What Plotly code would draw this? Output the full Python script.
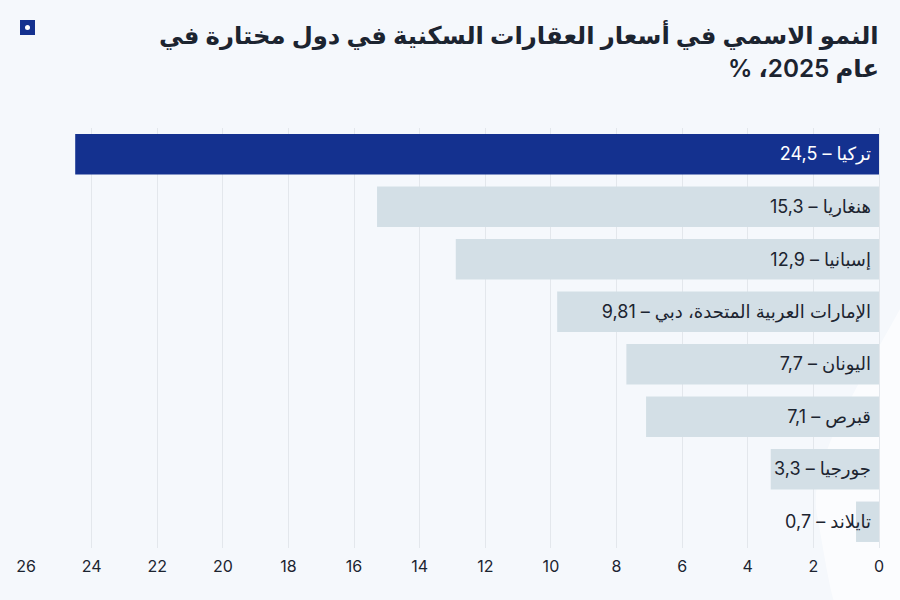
import plotly.graph_objects as go

countries = ["تركيا", "هنغاريا", "إسبانيا", "الإمارات العربية المتحدة، دبي",
             "اليونان", "قبرص", "جورجيا", "تايلاند"]
values = [24.5, 15.3, 12.9, 9.81, 7.7, 7.1, 3.3, 0.7]
value_labels = ["24,5", "15,3", "12,9", "9,81", "7,7", "7,1", "3,3", "0,7"]
tick_vals = list(range(0, 27, 2))
title_lines = ["النمو الاسمي في أسعار العقارات السكنية في دول مختارة في", "عام 2025، %"]

RLM = "\u200f"
NBSP = "\u00a0"
texts = [f"{RLM}{NBSP}{c} – {v}{RLM}" for c, v in zip(countries, value_labels)]
bar_colors = ["#14318f"] + ["#d3dfe6"] * (len(values) - 1)
text_colors = ["#ffffff"] + ["#1c2430"] * (len(values) - 1)

FONT = "Inter, 'Noto Sans', 'DejaVu Sans', sans-serif"

# plot area in pixels: x 26..879, y 128..548
PW, PH, L, T = 853, 420, 26, 128
def px(x):
    return (x - L) / PW
def py(y):
    return (T + PH - y) / PH

fig = go.Figure(go.Bar(
    x=values, y=countries, orientation="h",
    marker=dict(color=bar_colors, line=dict(width=0)),
    text=texts, textposition="inside", insidetextanchor="start",
    textfont=dict(color=text_colors, size=18, family=FONT),
    textangle=0, constraintext="none",
    hoverinfo="skip",
))

bg_path = (f"M {px(905)} {py(300)} "
           f"C {px(850)} {py(400)}, {px(805)} {py(470)}, {px(818)} {py(520)} "
           f"C {px(825)} {py(560)}, {px(830)} {py(590)}, {px(835)} {py(605)} "
           f"L {px(905)} {py(605)} Z")

fig.update_layout(
    width=900, height=600,
    margin=dict(l=L, r=900 - L - PW, t=T, b=600 - T - PH),
    paper_bgcolor="#f5f8fc", plot_bgcolor="rgba(0,0,0,0)",
    bargap=0.23,
    showlegend=False,
    font=dict(family=FONT, color="#1c2430"),
    xaxis=dict(range=[26, 0], tickvals=tick_vals, ticktext=[str(t) for t in tick_vals],
               showgrid=True, gridcolor="#e3e7ec", gridwidth=1,
               zeroline=True, zerolinecolor="#e3e7ec", zerolinewidth=1,
               showline=False, ticks="", tickfont=dict(size=16, color="#1c2430"),
               ticklabelstandoff=7),
    yaxis=dict(autorange="reversed", showticklabels=False, showgrid=False,
               zeroline=False, showline=False, ticks=""),
    shapes=[
        dict(type="path", xref="paper", yref="paper", layer="below",
             path=bg_path, fillcolor="#ffffff", opacity=0.6, line=dict(width=0)),
        dict(type="rect", xref="paper", yref="paper", layer="above",
             x0=px(20), x1=px(35), y0=py(35), y1=py(20),
             fillcolor="#14318f", line=dict(width=0)),
        dict(type="circle", xref="paper", yref="paper", layer="above",
             x0=px(25), x1=px(30), y0=py(30), y1=py(25),
             fillcolor="#ffffff", line=dict(width=0)),
    ],
    annotations=[
        dict(text=RLM + title_lines[0] + RLM,
             xref="paper", yref="paper", x=px(881), y=py(35),
             xanchor="right", yanchor="middle", align="right", showarrow=False,
             font=dict(size=24.3, color="#1c2430", family=FONT, weight=600)),
        dict(text=RLM + title_lines[1] + RLM,
             xref="paper", yref="paper", x=px(881), y=py(68),
             xanchor="right", yanchor="middle", align="right", showarrow=False,
             font=dict(size=24.3, color="#1c2430", family=FONT, weight=600)),
    ],
)

fig.write_html("out.html")
